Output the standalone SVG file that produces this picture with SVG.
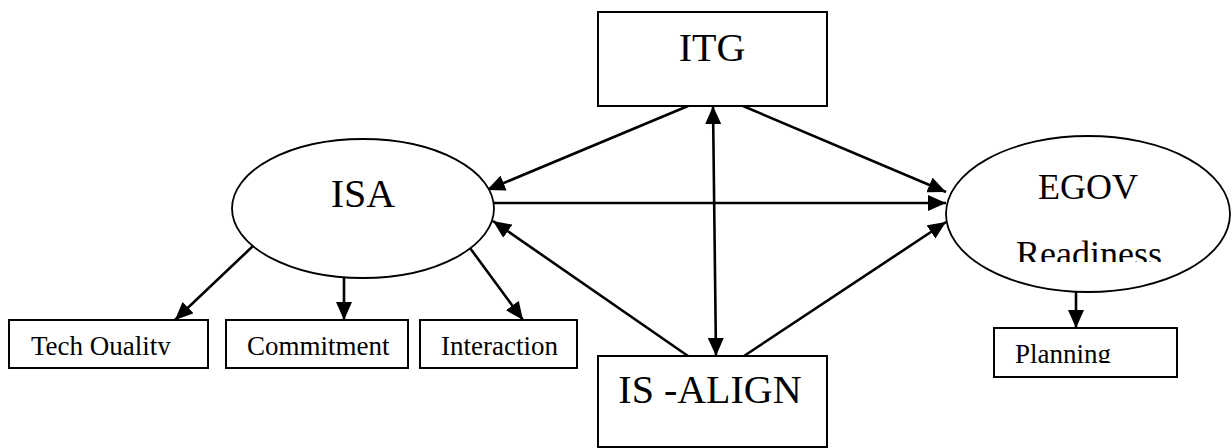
<svg xmlns="http://www.w3.org/2000/svg" width="1232" height="448" viewBox="0 0 1232 448">
  <style>
    .box { fill: #fff; stroke: #000; stroke-width: 2; }
    .oval { fill: #fff; stroke: #000; stroke-width: 1.8; }
    .big { font-family: "Liberation Serif", "Times New Roman", serif; font-size: 40px; fill: #000; text-anchor: middle; }
    .mid { font-family: "Liberation Serif", "Times New Roman", serif; font-size: 36px; fill: #000; text-anchor: middle; }
    .small { font-family: "Liberation Serif", "Times New Roman", serif; font-size: 27px; fill: #000; }
    .edge { fill: none; stroke: #000; stroke-width: 2.6; marker-end: url(#head); }
  </style>
  <defs>
    <marker id="head" markerUnits="userSpaceOnUse" markerWidth="18" markerHeight="16" refX="18" refY="8" orient="auto-start-reverse">
      <path d="M0,0 L18,8 L0,16 Z" fill="#000"/>
    </marker>
    <clipPath id="clipTQ"><rect x="0" y="300" width="220" height="55"/></clipPath>
    <clipPath id="clipPlan"><rect x="990" y="330" width="190" height="33"/></clipPath>
    <clipPath id="clipReady"><rect x="950" y="230" width="280" height="32"/></clipPath>
  </defs>

  <!-- connectors -->
  <g id="connectors">
    <path class="edge" d="M688,106 L487,190"/>
    <path class="edge" d="M743,106 L946,192"/>
    <path class="edge" d="M494,203 L946,203"/>
    <path class="edge" d="M713,106 L716,356" marker-start="url(#head)"/>
    <path class="edge" d="M688,356 L493,221"/>
    <path class="edge" d="M744,356 L946,222"/>
    <path class="edge" d="M253,246 L175,320"/>
    <path class="edge" d="M344,278 L344,320"/>
    <path class="edge" d="M470,248 L523,320"/>
    <path class="edge" d="M1076,292 L1076,328"/>
  </g>

  <!-- ITG -->
  <g id="itg">
    <rect class="box" x="598" y="12" width="229" height="94"/>
    <text class="big" x="712" y="61">ITG</text>
  </g>

  <!-- ISA -->
  <g id="isa">
    <ellipse class="oval" cx="363" cy="208.5" rx="131" ry="69.5"/>
    <text class="big" x="363" y="207">ISA</text>
  </g>

  <!-- EGOV Readiness -->
  <g id="egov">
    <ellipse class="oval" cx="1088" cy="214" rx="142" ry="78"/>
    <text class="mid" x="1088" y="199">EGOV</text>
    <text class="mid" x="1089" y="265.5" clip-path="url(#clipReady)">Readiness</text>
  </g>

  <!-- IS-ALIGN -->
  <g id="isalign">
    <rect class="box" x="598" y="356" width="229" height="91"/>
    <text class="big" x="710" y="403">IS -ALIGN</text>
  </g>

  <!-- indicators -->
  <g id="techquality">
    <rect class="box" x="9" y="320" width="199" height="48"/>
    <text class="small" x="31" y="354.5" clip-path="url(#clipTQ)">Tech Quality</text>
  </g>
  <g id="commitment">
    <rect class="box" x="226" y="320" width="182" height="48"/>
    <text class="small" x="247" y="355">Commitment</text>
  </g>
  <g id="interaction">
    <rect class="box" x="420" y="320" width="157" height="48"/>
    <text class="small" x="441" y="355">Interaction</text>
  </g>
  <g id="planning">
    <rect class="box" x="994" y="328" width="183" height="49"/>
    <text class="small" x="1015" y="362.5" clip-path="url(#clipPlan)">Planning</text>
  </g>
</svg>
